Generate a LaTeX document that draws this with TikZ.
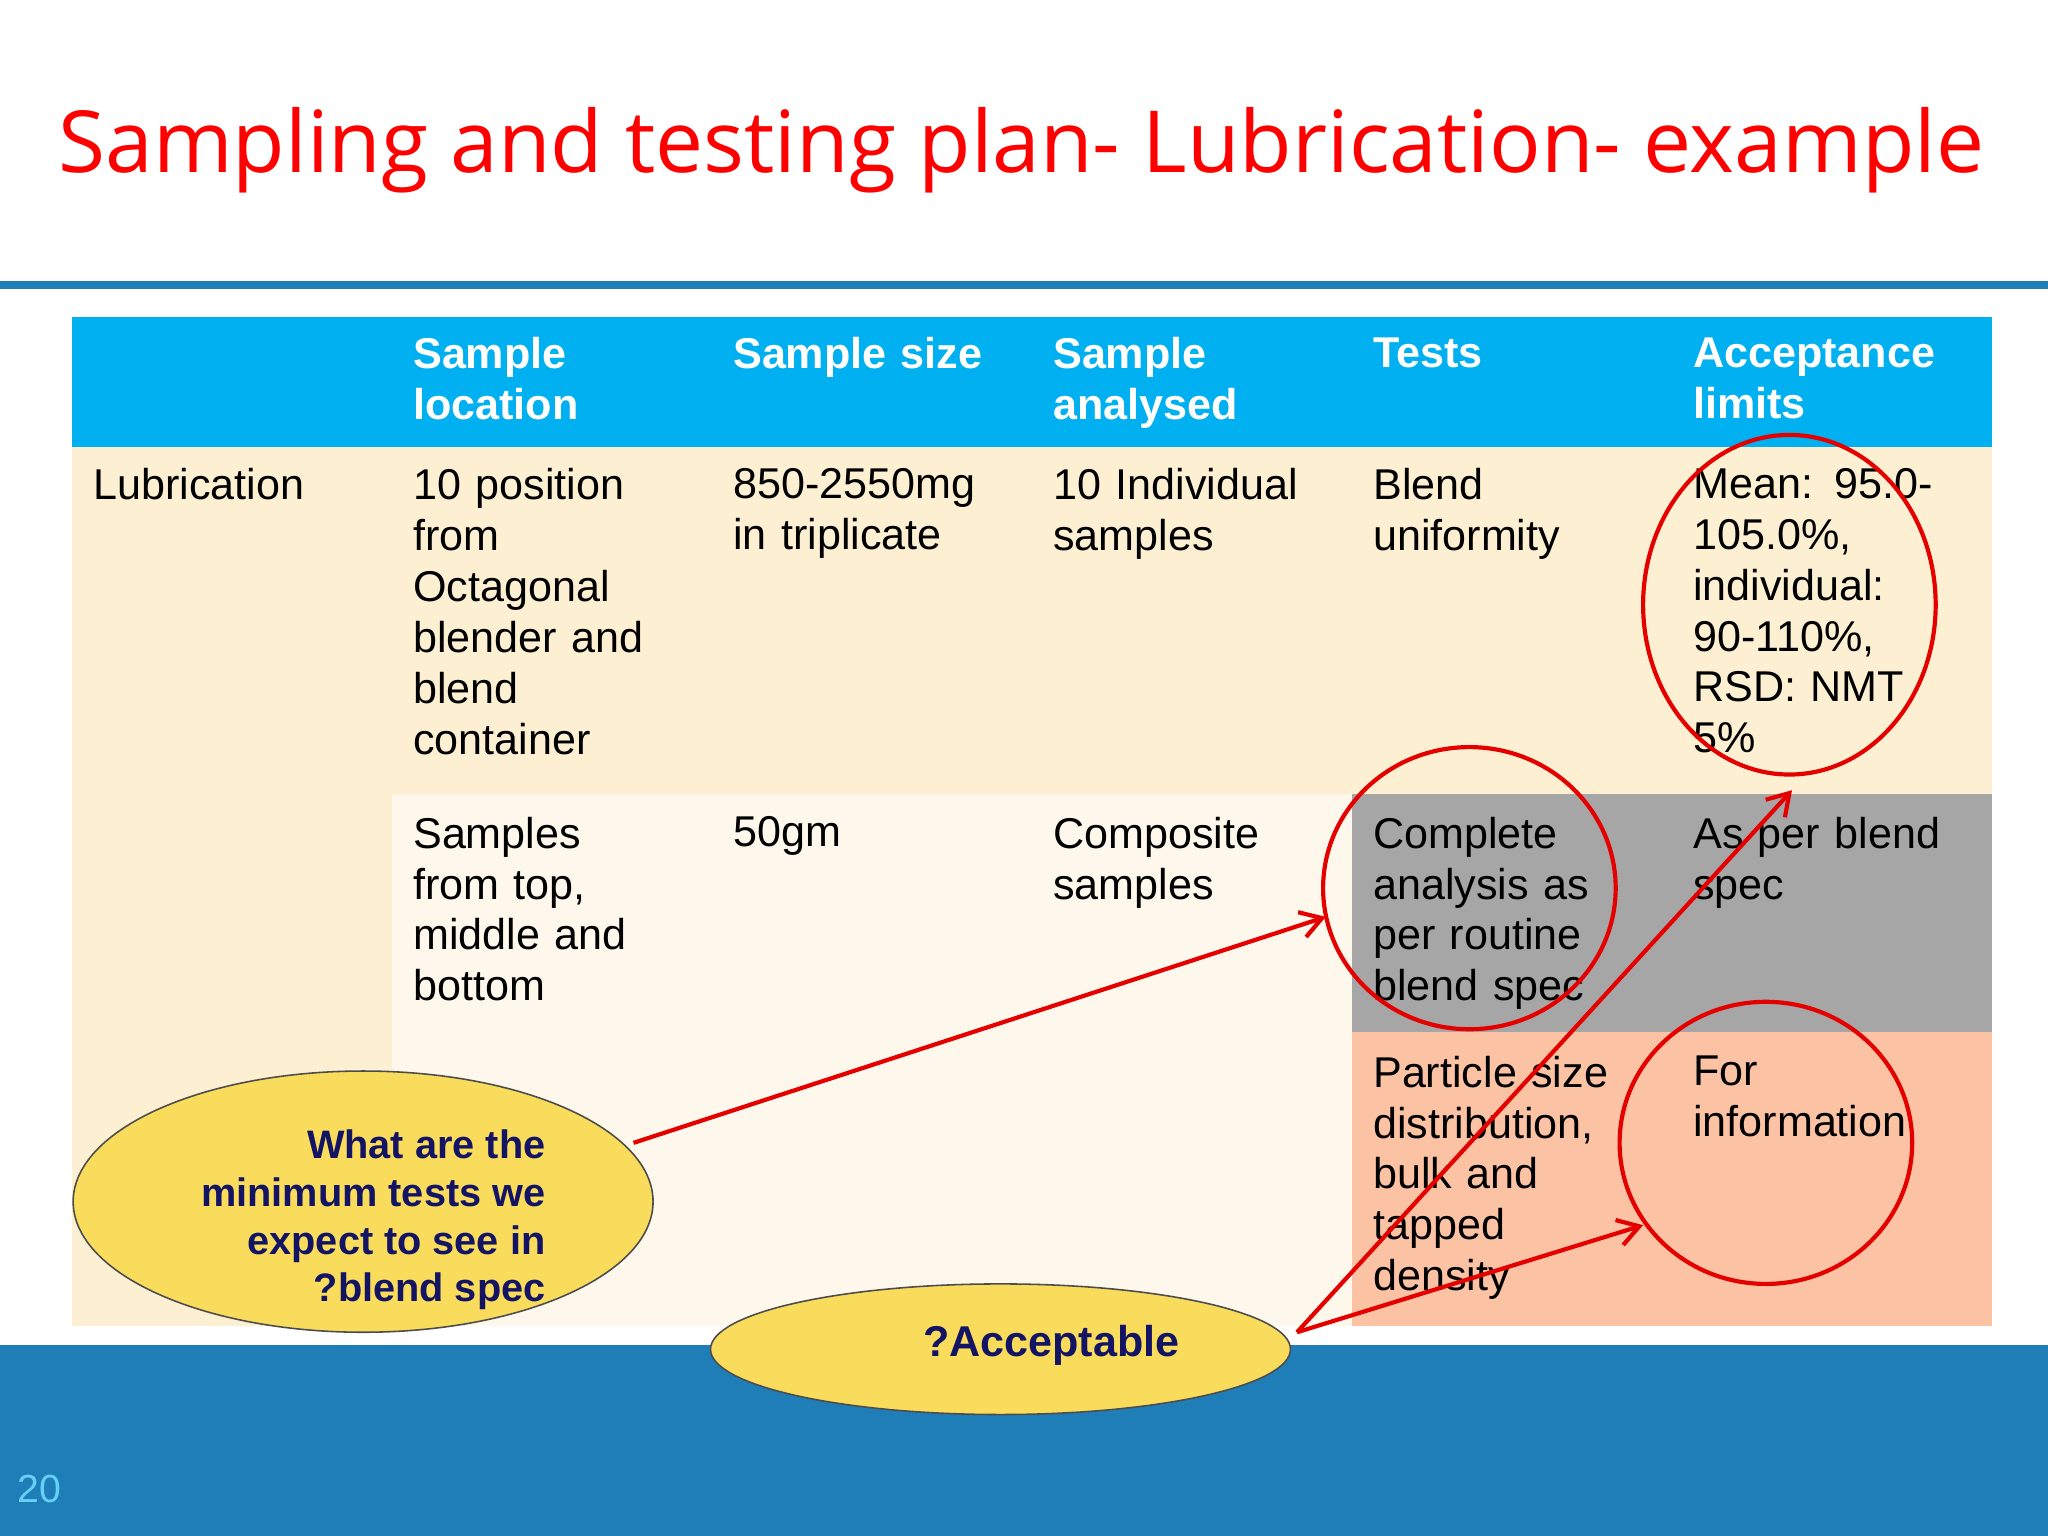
\documentclass[tikz,border=0pt]{standalone}
\usepackage{fontspec}
\setmainfont{Liberation Sans}
\newfontfamily\titlefont{Open Sans}
\usetikzlibrary{arrows.meta}
\definecolor{hdr}{HTML}{00B0F0}
\definecolor{yel}{HTML}{FDF0D2}
\definecolor{crm}{HTML}{FEF8EC}
\definecolor{gry}{HTML}{A6A6A6}
\definecolor{sal}{HTML}{FCC2A4}
\definecolor{band}{HTML}{1F7EB8}
\definecolor{bub}{HTML}{F9DC5C}
\definecolor{navy}{HTML}{141464}
\begin{document}
\begin{tikzpicture}[x=0.5pt,y=-0.5pt,
 cell/.style={anchor=north west,align=left,inner sep=0pt,text width=110pt,font=\fontsize{16.5}{19.5}\selectfont},
 hcell/.style={cell,text=white,font=\fontsize{16.5}{19.5}\selectfont\bfseries},
 ring/.style={draw=red!90!black,line width=1.6pt},
 arr/.style={draw=red!90!black,line width=1.6pt,-{Straight Barb[length=8pt,width=10pt]}},
 bubble/.style={ellipse,draw=black!70,fill=bub,line width=0.6pt}]
\useasboundingbox (0,0) rectangle (1568,1176);
\fill[white] (0,0) rectangle (1568,1176);
\node[text=red,font=\titlefont\fontsize{32.8}{38}\selectfont] (title) at (782,115) {Sampling and testing plan- Lubrication- example};
\fill[band] (0,215) rectangle (1568,221);
% table backgrounds
\fill[yel] (55,342) rectangle (1525,1015);
\fill[crm] (300,608) rectangle (1035,1015);
\fill[gry] (1035,608) rectangle (1525,790);
\fill[sal] (1035,790) rectangle (1525,1015);
\fill[hdr] (55,243) rectangle (1525,342);
% bottom band
\fill[band] (0,1030) rectangle (1568,1176);
\node[text=hdr!60,font=\fontsize{15}{15}\selectfont] (num) at (30,1140) {20};
% headers
\node[hcell] (h1) at (316,258) {Sample\\location};
\node[hcell] (h2) at (561,258) {Sample size};
\node[hcell] (h3) at (806,258) {Sample\\analysed};
\node[hcell] (h4) at (1051,258) {Tests};
\node[hcell] (h5) at (1296,258) {Acceptance\\limits};
% row 1
\node[cell] (r0) at (71,358) {Lubrication};
\node[cell] (r11) at (316,358) {10 position\\from\\Octagonal\\blender and\\blend\\container};
\node[cell] (r12) at (561,358) {850-2550mg\\in triplicate};
\node[cell] (r13) at (806,358) {10 Individual\\samples};
\node[cell] (r14) at (1051,358) {Blend\\uniformity};
\node[cell] (r15) at (1296,358) {Mean: 95.0-\\105.0\%,\\individual:\\90-110\%,\\RSD: NMT\\5\%};
% row 2
\node[cell] (r21) at (316,625) {Samples\\from top,\\middle and\\bottom};
\node[cell] (r22) at (561,625) {50gm};
\node[cell] (r23) at (806,625) {Composite\\samples};
\node[cell] (r24) at (1051,625) {Complete\\analysis as\\per routine\\blend spec};
\node[cell] (r25) at (1296,625) {As per blend\\spec};
% row 3
\node[cell] (r34) at (1051,808) {Particle size\\distribution,\\bulk and\\tapped\\density};
\node[cell] (r35) at (1296,808) {For\\information};
% red circles
\draw[ring] (1370,463) ellipse [x radius=112,y radius=130];
\draw[ring] (1125,680) ellipse [x radius=112,y radius=108];
\draw[ring] (1352,875) ellipse [x radius=112,y radius=108];
\coordinate (c1) at (1372,605);
\coordinate (c2) at (1015,702);
\coordinate (c3) at (1258,938);
% bubbles
\draw[black!70,fill=bub,line width=0.6pt] (278,920) ellipse [x radius=222,y radius=100];
\node[align=right,text=navy,font=\fontsize{15.2}{18.3}\selectfont\bfseries,inner sep=0pt,anchor=east] (q1) at (418,934) {What are the\\minimum tests we\\expect to see in\\?blend spec};
\draw[black!70,fill=bub,line width=0.6pt] (766,1033) ellipse [x radius=222,y radius=50];
\node[text=navy,font=\fontsize{16.5}{18}\selectfont\bfseries] (q2) at (805,1030) {?Acceptable};
\coordinate (s1) at (485,875);
\coordinate (s2) at (993,1020);
\draw[arr] (s1) -- (c2);
\draw[arr] (s2) -- (c1);
\draw[arr] (s2) -- (c3);
\end{tikzpicture}
\end{document}
